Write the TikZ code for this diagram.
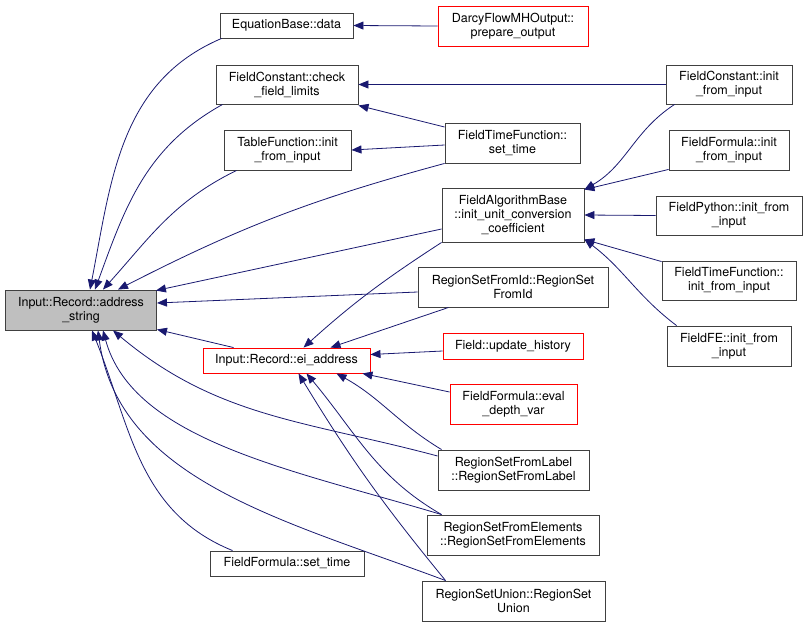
\documentclass[tikz,border=0pt]{standalone}
\usepackage{fontspec}
\setmainfont{TeX Gyre Heros}
\usepackage{tikz}
\usetikzlibrary{arrows.meta,calc}

\begin{document}
\begin{tikzpicture}[x=1pt,y=1pt]
\tikzset{
	fn node/.style = {rectangle, draw = black!75, line width = 0.9pt, fill = white, inner sep = 0, align = center,
		font = \fontsize{12.5}{14}\selectfont},
	red node/.style = {fn node, draw = red},
	main node/.style = {fn node, fill = black!25},
	call edge/.style = {draw = {rgb,255:red,25;green,25;blue,112}, line width = 0.8pt,
		-{Triangle[length = 10pt, width = 8pt, fill = {rgb,255:red,25;green,25;blue,112}]}},
}
\useasboundingbox (0,0) rectangle (808,-627);

% left column
\node(addr)[main node, minimum width = 151, minimum height = 40] at (81,-310) {Input::Record::address\\\_string};
\node(eqdata)[fn node, minimum width = 133, minimum height = 25] at (286.5,-25.5) {EquationBase::data};
\node(fccheck)[fn node, minimum width = 142, minimum height = 39] at (287,-84.5) {FieldConstant::check\\\_field\_limits};
\node(tfinit)[fn node, minimum width = 127, minimum height = 40] at (287.5,-150) {TableFunction::init\\\_from\_input};
\node(eiaddr)[red node, minimum width = 167, minimum height = 25] at (286.5,-360.5) {Input::Record::ei\_address};
\node(ffset)[fn node, minimum width = 154, minimum height = 25] at (287,-563.5) {FieldFormula::set\_time};

% middle column
\node(darcy)[red node, minimum width = 150, minimum height = 40] at (513,-26) {DarcyFlowMHOutput::\\prepare\_output};
\node(ftfset)[fn node, minimum width = 135, minimum height = 40] at (512.5,-143) {FieldTimeFunction::\\set\_time};
\node(fab)[fn node, minimum width = 142, minimum height = 54] at (513,-215) {FieldAlgorithmBase\\::init\_unit\_conversion\\\_coefficient};
\node(rsfid)[fn node, minimum width = 190, minimum height = 40] at (513,-287) {RegionSetFromId::RegionSet\\FromId};
\node(fuh)[red node, minimum width = 140, minimum height = 26] at (513,-346) {Field::update\_history};
\node(ffeval)[red node, minimum width = 127, minimum height = 40] at (513.5,-404) {FieldFormula::eval\\\_depth\_var};
\node(rsfl)[fn node, minimum width = 151, minimum height = 40] at (513.5,-470) {RegionSetFromLabel\\::RegionSetFromLabel};
\node(rsfe)[fn node, minimum width = 172, minimum height = 40] at (513,-535) {RegionSetFromElements\\::RegionSetFromElements};
\node(rsu)[fn node, minimum width = 183, minimum height = 40] at (513.5,-601) {RegionSetUnion::RegionSet\\Union};

% right column
\node(fcinit)[fn node, minimum width = 126, minimum height = 39] at (729,-84.5) {FieldConstant::init\\\_from\_input};
\node(ffinit)[fn node, minimum width = 120, minimum height = 40] at (729,-150) {FieldFormula::init\\\_from\_input};
\node(fpinit)[fn node, minimum width = 146, minimum height = 39] at (729,-215.5) {FieldPython::init\_from\\\_input};
\node(ftfinit)[fn node, minimum width = 134, minimum height = 39] at (729,-280.5) {FieldTimeFunction::\\init\_from\_input};
\node(ffeinit)[fn node, minimum width = 124, minimum height = 40] at (729,-346) {FieldFE::init\_from\\\_input};

% calls into address_string
\draw [call edge] ([xshift=2]eqdata.south west) to[out=203, in=79] ([xshift=9]addr.north);
\draw [call edge] ([xshift=7]fccheck.south west) to[out=209, in=70] ([xshift=14]addr.north);
\draw [call edge] ([xshift=13]tfinit.south west) to[out=206, in=48] ([xshift=22]addr.north);
\draw [call edge] (ftfset.south west) to[bend right=6] ([xshift=37]addr.north);
\draw [call edge] ([yshift=-14]fab.west) -- ([xshift=-1,yshift=-1]addr.north east);
\draw [call edge] ([yshift=-5]rsfid.west) -- ([yshift=7]addr.east);
\draw [call edge] ([xshift=31]eiaddr.north west) -- ([yshift=1]addr.south east);
\draw [call edge] ([yshift=14]rsfl.west) to[out=165, in=-40] ([xshift=32]addr.south);
\draw [call edge] ([xshift=15]rsfe.north west) .. controls +(-150,45) and +(30,-110) .. ([xshift=22]addr.south);
\draw [call edge] ([xshift=24]rsu.north west) .. controls +(-160,60) and +(20,-150) .. ([xshift=17]addr.south);
\draw [call edge] ([xshift=23]ffset.north west) to[out=158, in=-68] ([xshift=11]addr.south);

% calls into ei_address
\draw [call edge] (fab.south west) to[out=213, in=42] ([xshift=17]eiaddr.north);
\draw [call edge] ([xshift=31]rsfid.south west) -- ([xshift=44]eiaddr.north);
\draw [call edge] ([yshift=-5]fuh.west) -- ([yshift=6]eiaddr.east);
\draw [call edge] ([yshift=12]ffeval.west) -- ([xshift=-8]eiaddr.south east);
\draw [call edge] ([xshift=4]rsfl.north west) to[out=149, in=-29] ([xshift=50]eiaddr.south);
\draw [call edge] ([xshift=15]rsfe.north west) to[out=150, in=-50] ([xshift=20]eiaddr.south);
\draw [call edge] ([xshift=24]rsu.north west) to[bend left=4] ([xshift=12]eiaddr.south);

% other calls
\draw [call edge] (darcy.west) -- (eqdata.east);
\draw [call edge] (fcinit.west) -- (fccheck.east);
\draw [call edge] ([yshift=16]ftfset.west) -- ([yshift=-1]fccheck.south east);
\draw [call edge] ([yshift=-2]ftfset.west) -- (tfinit.east);
\draw [call edge] ([xshift=9]fcinit.south west) to[out=213, in=30] ([yshift=-2]fab.north east);
\draw [call edge] ([yshift=1]ffinit.south west) -- ([yshift=-2]fab.north east);
\draw [call edge] (fpinit.west) -- (fab.east);
\draw [call edge] ([yshift=-1]ftfinit.north west) -- ([yshift=3]fab.south east);
\draw [call edge] ([xshift=10]ffeinit.north west) to[out=143, in=-37] ([yshift=3]fab.south east);

\end{tikzpicture}
\end{document}
